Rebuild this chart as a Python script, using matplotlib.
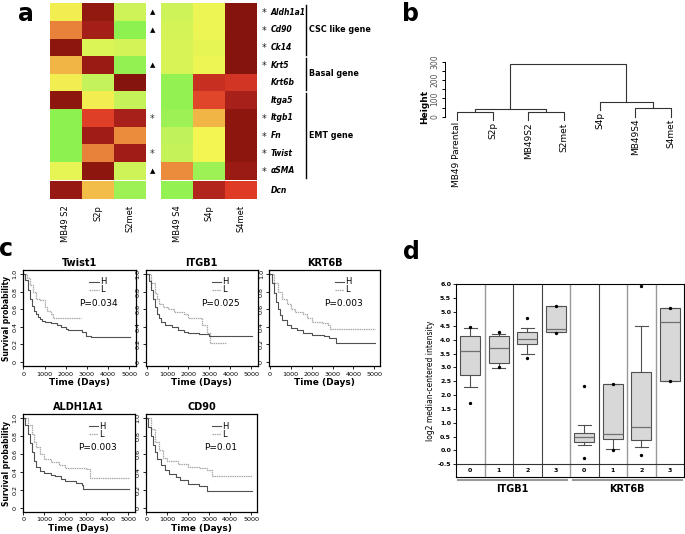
import numpy as np
import matplotlib
matplotlib.use('Agg')
import matplotlib.pyplot as plt
from matplotlib.colors import LinearSegmentedColormap

W, H = 685, 534

# ---- panel a: heatmap values (0 = green, 0.45 = yellow, 1 = dark red)
genes = ['Aldh1a1', 'Cd90', 'Ck14', 'Krt5', 'Krt6b', 'Itga5', 'Itgb1', 'Fn', 'Twist', 'αSMA', 'Dcn']
left_cols = ['MB49 S2', 'S2p', 'S2met']
right_cols = ['MB49 S4', 'S4p', 'S4met']
left_vals = [[0.44, 0.95, 0.30], [0.68, 0.91, 0.10], [0.96, 0.34, 0.32], [0.57, 0.93, 0.12],
             [0.44, 0.26, 0.98], [0.96, 0.44, 0.27], [0.10, 0.79, 0.90], [0.10, 0.92, 0.66],
             [0.10, 0.68, 0.92], [0.38, 0.96, 0.30], [0.94, 0.55, 0.15]]
right_vals = [[0.30, 0.40, 0.98], [0.32, 0.40, 0.98], [0.33, 0.38, 0.98], [0.33, 0.40, 0.98],
              [0.12, 0.84, 0.82], [0.12, 0.78, 0.90], [0.15, 0.57, 0.96], [0.25, 0.42, 0.96],
              [0.27, 0.42, 0.96], [0.66, 0.15, 0.93], [0.12, 0.88, 0.80]]
mid_marks = ['▲', '▲', '', '▲', '', '', '*', '', '*', '▲', '']
gene_stars = [True, True, True, True, False, False, True, True, True, True, False]
gene_groups = [('CSC like gene', 0, 2), ('Basal gene', 3, 4), ('EMT gene', 5, 9)]

# ---- panel b: dendrogram
leaves = ['MB49 Parental', 'S2p', 'MB49S2', 'S2met', 'S4p', 'MB49S4', 'S4met']
merge_left = [0, 2, 7, 5, 4, 9]
merge_right = [1, 3, 8, 6, 10, 11]
merge_height = [24, 24, 40, 45, 82, 286]
hang = 44

# ---- panel c: Kaplan-Meier curves (time in days, survival)
twist1_high = ([0, 100, 200, 300, 400, 500, 600, 700, 800, 900, 1000, 1300, 1600, 1800, 2000, 2100, 2750, 2950, 3200, 5050],
               [1.0, 0.93, 0.82, 0.72, 0.64, 0.58, 0.54, 0.51, 0.49, 0.47, 0.46, 0.44, 0.42, 0.40, 0.38, 0.36, 0.34, 0.30, 0.28, 0.28])
twist1_low = ([0, 150, 300, 450, 600, 800, 1000, 1100, 1300, 1400, 2700],
              [1.0, 0.95, 0.88, 0.80, 0.72, 0.70, 0.62, 0.58, 0.55, 0.50, 0.50])
itgb1_high = ([0, 100, 200, 300, 400, 500, 600, 700, 900, 1200, 1500, 1800, 2000, 2500, 3000, 5050],
              [1.0, 0.92, 0.82, 0.72, 0.62, 0.55, 0.50, 0.46, 0.42, 0.40, 0.36, 0.34, 0.33, 0.32, 0.30, 0.30])
itgb1_low = ([0, 200, 400, 500, 600, 800, 1000, 1300, 1800, 2000, 2600, 2650, 2900, 3050, 3800],
             [1.0, 0.90, 0.78, 0.72, 0.66, 0.62, 0.60, 0.57, 0.55, 0.50, 0.50, 0.42, 0.33, 0.22, 0.22])
krt6b_high = ([0, 100, 200, 300, 400, 500, 600, 800, 1000, 1300, 1600, 2000, 2600, 2850, 3150, 5050],
              [1.0, 0.90, 0.78, 0.68, 0.60, 0.53, 0.48, 0.42, 0.39, 0.36, 0.33, 0.31, 0.30, 0.27, 0.22, 0.22])
krt6b_low = ([0, 200, 400, 600, 800, 1000, 1200, 1600, 1800, 2000, 2500, 2800, 2900, 5050],
             [1.0, 0.90, 0.80, 0.72, 0.66, 0.60, 0.57, 0.55, 0.50, 0.46, 0.44, 0.42, 0.37, 0.37])
aldh1a1_high = ([0, 100, 200, 300, 400, 500, 600, 800, 1000, 1300, 1500, 1800, 2000, 2500, 2800, 2850, 5050],
                [1.0, 0.92, 0.83, 0.72, 0.62, 0.52, 0.46, 0.41, 0.39, 0.37, 0.35, 0.32, 0.30, 0.28, 0.25, 0.21, 0.21])
aldh1a1_low = ([0, 200, 400, 500, 600, 800, 1000, 1300, 1700, 2000, 3000, 3150, 5050],
               [1.0, 0.92, 0.82, 0.74, 0.68, 0.60, 0.55, 0.51, 0.48, 0.44, 0.43, 0.33, 0.33])
cd90_high = ([0, 100, 200, 300, 400, 500, 700, 900, 1100, 1400, 1600, 2000, 2500, 2900, 5050],
             [1.0, 0.90, 0.80, 0.70, 0.62, 0.55, 0.48, 0.42, 0.38, 0.34, 0.31, 0.26, 0.24, 0.19, 0.19])
cd90_low = ([0, 200, 400, 600, 800, 1000, 1500, 2000, 2500, 2900, 3150, 5050],
            [1.0, 0.88, 0.74, 0.64, 0.56, 0.52, 0.49, 0.46, 0.44, 0.42, 0.36, 0.36])
surv_titles = ['Twist1', 'ITGB1', 'KRT6B', 'ALDH1A1', 'CD90']
surv_pvals = ['P=0.034', 'P=0.025', 'P=0.003', 'P=0.003', 'P=0.01']

# ---- panel d: boxplot stats, ITGB1 groups 0-3 then KRT6B groups 0-3
box_groups = ['0', '1', '2', '3', '0', '1', '2', '3']
box_low = [2.29, 2.99, 3.47, 4.26, 0.18, 0.04, 0.14, 2.49]
box_q1 = [2.71, 3.14, 3.83, 4.26, 0.30, 0.40, 0.37, 2.49]
box_med = [3.59, 3.71, 4.01, 4.40, 0.48, 0.58, 0.83, 4.64]
box_q3 = [4.13, 4.15, 4.26, 5.21, 0.64, 2.40, 2.85, 5.13]
box_high = [4.41, 4.22, 4.42, 5.21, 0.91, 2.40, 4.50, 5.13]
box_out = [[4.44, 1.72], [4.26, 3.00], [4.78, 3.34], [5.22, 4.24],
           [2.31, -0.26], [2.41, 0.03], [5.93, -0.17], [5.15, 2.50]]
box_genes = ['ITGB1', 'KRT6B']


def px_axes(fig, x0, y0, x1, y1):
    """Adds axes from pixel box (top-left origin)."""
    return fig.add_axes([x0 / W, 1 - y1 / H, (x1 - x0) / W, (y1 - y0) / H])


def ftext(fig, x, y, s, **kw):
    """Places text at pixel position (top-left origin)."""
    fig.text(x / W, 1 - y / H, s, **kw)


def draw_heat(fig, vals, x0, x1, cmap):
    ax = px_axes(fig, x0, 3.3, x1, 199)
    data = np.array(vals, dtype=float)
    data = np.vstack([data[:10], np.full((1, 3), np.nan), data[10:]])
    yedges = list(range(11)) + [10.1, 11.1]
    ax.pcolormesh(np.arange(4), yedges, np.ma.masked_invalid(data), cmap=cmap, vmin=0, vmax=1)
    ax.set_ylim(11.1, 0)
    ax.set_xlim(0, 3)
    ax.axis('off')
    return ax


def draw_survival(ax, title, high, low, pval):
    ax.step(low[0], low[1], where='post', color='#a8a8a8', lw=0.9, ls=(0, (1.2, 0.6)))
    ax.step(high[0], high[1], where='post', color='#505050', lw=0.8)
    ax.set_xlim(-30, 5300)
    ax.set_ylim(-0.045, 1.045)
    ax.set_xticks(range(0, 5001, 1000))
    ax.set_yticks([0, 0.2, 0.4, 0.6, 0.8, 1.0])
    ax.set_yticklabels(['0', '0.2', '0.4', '0.6', '0.8', '1.0'], rotation=90, va='center')
    ax.tick_params(direction='out', length=2.5, width=0.6, labelsize=4.6, pad=1.5)
    for sp in ax.spines.values():
        sp.set_linewidth(0.9)
    ax.set_title(title, fontsize=7, fontweight='bold', pad=3)
    ax.set_xlabel('Time (Days)', fontsize=6.5, fontweight='bold', labelpad=1)
    ax.plot([0.59, 0.675], [0.875, 0.875], transform=ax.transAxes, color='#505050', lw=0.8)
    ax.plot([0.59, 0.675], [0.795, 0.795], transform=ax.transAxes, color='#a8a8a8', lw=0.9, ls=(0, (1.2, 0.6)))
    ax.text(0.685, 0.875, 'H', transform=ax.transAxes, fontsize=6, va='center')
    ax.text(0.685, 0.795, 'L', transform=ax.transAxes, fontsize=6, va='center')
    ax.text(0.67, 0.655, pval, transform=ax.transAxes, fontsize=6.5, ha='center', va='center')


fig = plt.figure(figsize=(W / 100, H / 100), dpi=100)

# ---------------- a
cmap = LinearSegmentedColormap.from_list('heat', [
    (0.0, '#6cf04a'), (0.25, '#c0f25a'), (0.42, '#f2f552'), (0.55, '#f2be48'),
    (0.68, '#e8823a'), (0.80, '#de3a26'), (0.90, '#a8201a'), (1.0, '#7c1208')])
draw_heat(fig, left_vals, 50, 146, cmap)
draw_heat(fig, right_vals, 161, 257, cmap)
row_h = (199 - 3.3) / 11.1
for i, g in enumerate(genes):
    yc = 3.3 + (i + 0.5) * row_h if i < 10 else 3.3 + 10.6 * row_h
    if mid_marks[i] == '▲':
        ftext(fig, 152.5, yc, '▲', fontsize=5, ha='center', va='center')
    elif mid_marks[i] == '*':
        ftext(fig, 152.5, yc + 1, '*', fontsize=7, ha='center', va='center', color='#333333')
    if gene_stars[i]:
        ftext(fig, 264, yc + 1, '*', fontsize=7, ha='center', va='center', color='#222222')
    ftext(fig, 271, yc, g, fontsize=5.5, style='italic', fontweight='bold', va='center')
for name, r0, r1 in gene_groups:
    ya = 3.3 + r0 * row_h + 1.5
    yb = 3.3 + (r1 + 1) * row_h - 1.5
    fig.add_artist(plt.Line2D([306 / W, 306 / W], [1 - ya / H, 1 - yb / H], color='black', lw=1.0))
    ftext(fig, 309, (ya + yb) / 2, name, fontsize=5.8, fontweight='bold', va='center')
for j, c in enumerate(left_cols):
    ftext(fig, 50 + (j + 0.5) * 32, 205, c, fontsize=6, rotation=90, ha='center', va='top')
for j, c in enumerate(right_cols):
    ftext(fig, 161 + (j + 0.5) * 32, 205, c, fontsize=6, rotation=90, ha='center', va='top')
ftext(fig, 26, 14, 'a', fontsize=17, fontweight='bold', ha='center', va='center')

# ---------------- b
axb = px_axes(fig, 445, 55, 680, 130)
pos = {i: i + 1.0 for i in range(len(leaves))}
hgt = {i: 0.0 for i in range(len(leaves))}
leaf_end = {}
for k, (a, b, h) in enumerate(zip(merge_left, merge_right, merge_height)):
    node = len(leaves) + k
    ya = h - hang if a < len(leaves) else hgt[a]
    yb = h - hang if b < len(leaves) else hgt[b]
    if a < len(leaves):
        leaf_end[a] = ya
    if b < len(leaves):
        leaf_end[b] = yb
    axb.plot([pos[a], pos[a], pos[b], pos[b]], [ya, h, h, yb], color='#333333', lw=0.8)
    pos[node] = (pos[a] + pos[b]) / 2
    hgt[node] = h
for i, name in enumerate(leaves):
    axb.text(pos[i], leaf_end[i] - 10, name, rotation=90, ha='center', va='top', fontsize=6.5)
axb.set_xlim(0.67, 7.25)
axb.set_ylim(-72.5, 336.5)
for s in ['top', 'right', 'bottom']:
    axb.spines[s].set_visible(False)
axb.spines['left'].set_bounds(0, 300)
axb.spines['left'].set_linewidth(0.7)
axb.set_xticks([])
axb.set_yticks(range(0, 301, 50))
axb.set_yticklabels(['0', '', '100', '', '200', '', '300'], rotation=90, va='center', color='#555555')
axb.tick_params(axis='y', length=2.5, width=0.7, labelsize=5.5, pad=1.5)
ftext(fig, 425, 107, 'Height', rotation=90, fontsize=6.5, fontweight='bold', ha='center', va='center')
ftext(fig, 411, 14, 'b', fontsize=17, fontweight='bold', ha='center', va='center')

# ---------------- c
surv_data = [(twist1_high, twist1_low), (itgb1_high, itgb1_low), (krt6b_high, krt6b_low),
             (aldh1a1_high, aldh1a1_low), (cd90_high, cd90_low)]
surv_boxes = [(22.7, 270, 135.7, 366), (146, 270, 257.5, 366), (269.3, 270, 380.5, 366),
              (22.7, 414.3, 134.7, 511.7), (145.7, 414.3, 257.3, 511.7)]
for (x0, y0, x1, y1), t, (hi, lo), p in zip(surv_boxes, surv_titles, surv_data, surv_pvals):
    ax = px_axes(fig, x0, y0, x1, y1)
    draw_survival(ax, t, hi, lo, p)
    if x0 < 30:
        ax.set_ylabel('Survival probability', fontsize=5.5, fontweight='bold', labelpad=1)
ftext(fig, 6, 249, 'c', fontsize=17, fontweight='bold', ha='center', va='center')

# ---------------- d
axd = px_axes(fig, 456, 284.3, 684, 477.3)
stats = []
for i in range(len(box_groups)):
    stats.append(dict(whislo=box_low[i], q1=box_q1[i], med=box_med[i], q3=box_q3[i],
                      whishi=box_high[i], fliers=box_out[i]))
axd.bxp(stats, positions=range(1, 9), widths=0.7, capwidths=0.45, patch_artist=True,
        boxprops=dict(facecolor='#d8d8d8', edgecolor='#505050', lw=0.8),
        medianprops=dict(color='#707070', lw=0.9),
        whiskerprops=dict(color='#505050', lw=0.8),
        capprops=dict(color='#505050', lw=0.8),
        flierprops=dict(marker='o', markersize=1.4, markerfacecolor='black', markeredgecolor='black'))
sep_colors = ['#999999', '#444444', '#444444', '#999999', '#444444', '#999999', '#999999']
for k, c in enumerate(sep_colors):
    axd.plot([k + 1.5, k + 1.5], [-0.97, 6.0], color=c, lw=1.0 if c == '#999999' else 0.8)
axd.axhline(-0.5, color='#333333', lw=0.8)
for i, g in enumerate(box_groups):
    axd.text(i + 1, -0.74, g, fontsize=4.5, ha='center', va='center', fontweight='bold')
axd.set_xlim(0.5, 8.5)
axd.set_ylim(-0.97, 6.0)
axd.set_xticks([])
yt = np.arange(-0.5, 6.01, 0.5)
axd.set_yticks(yt)
axd.set_yticklabels([f'{v:.1f}' for v in yt])
axd.tick_params(axis='y', length=2, width=0.6, labelsize=4.5, pad=1.5)
for lab in axd.get_yticklabels():
    lab.set_fontweight('bold')
for sp in axd.spines.values():
    sp.set_linewidth(0.8)
axd.set_ylabel('log2 median-centered intensity', fontsize=5.5, labelpad=2)
for k, g in enumerate(box_genes):
    x0 = 0.57 + 4.03 * k
    axd.plot([x0, x0 + 3.82], [-1.07, -1.07], color='#999999', lw=1.5, clip_on=False)
    axd.text(x0 + 1.91, -1.38, g, fontsize=7, fontweight='bold', ha='center', va='center')
ftext(fig, 411, 252, 'd', fontsize=17, fontweight='bold', ha='center', va='center')

fig.savefig('out.png', dpi=100)
